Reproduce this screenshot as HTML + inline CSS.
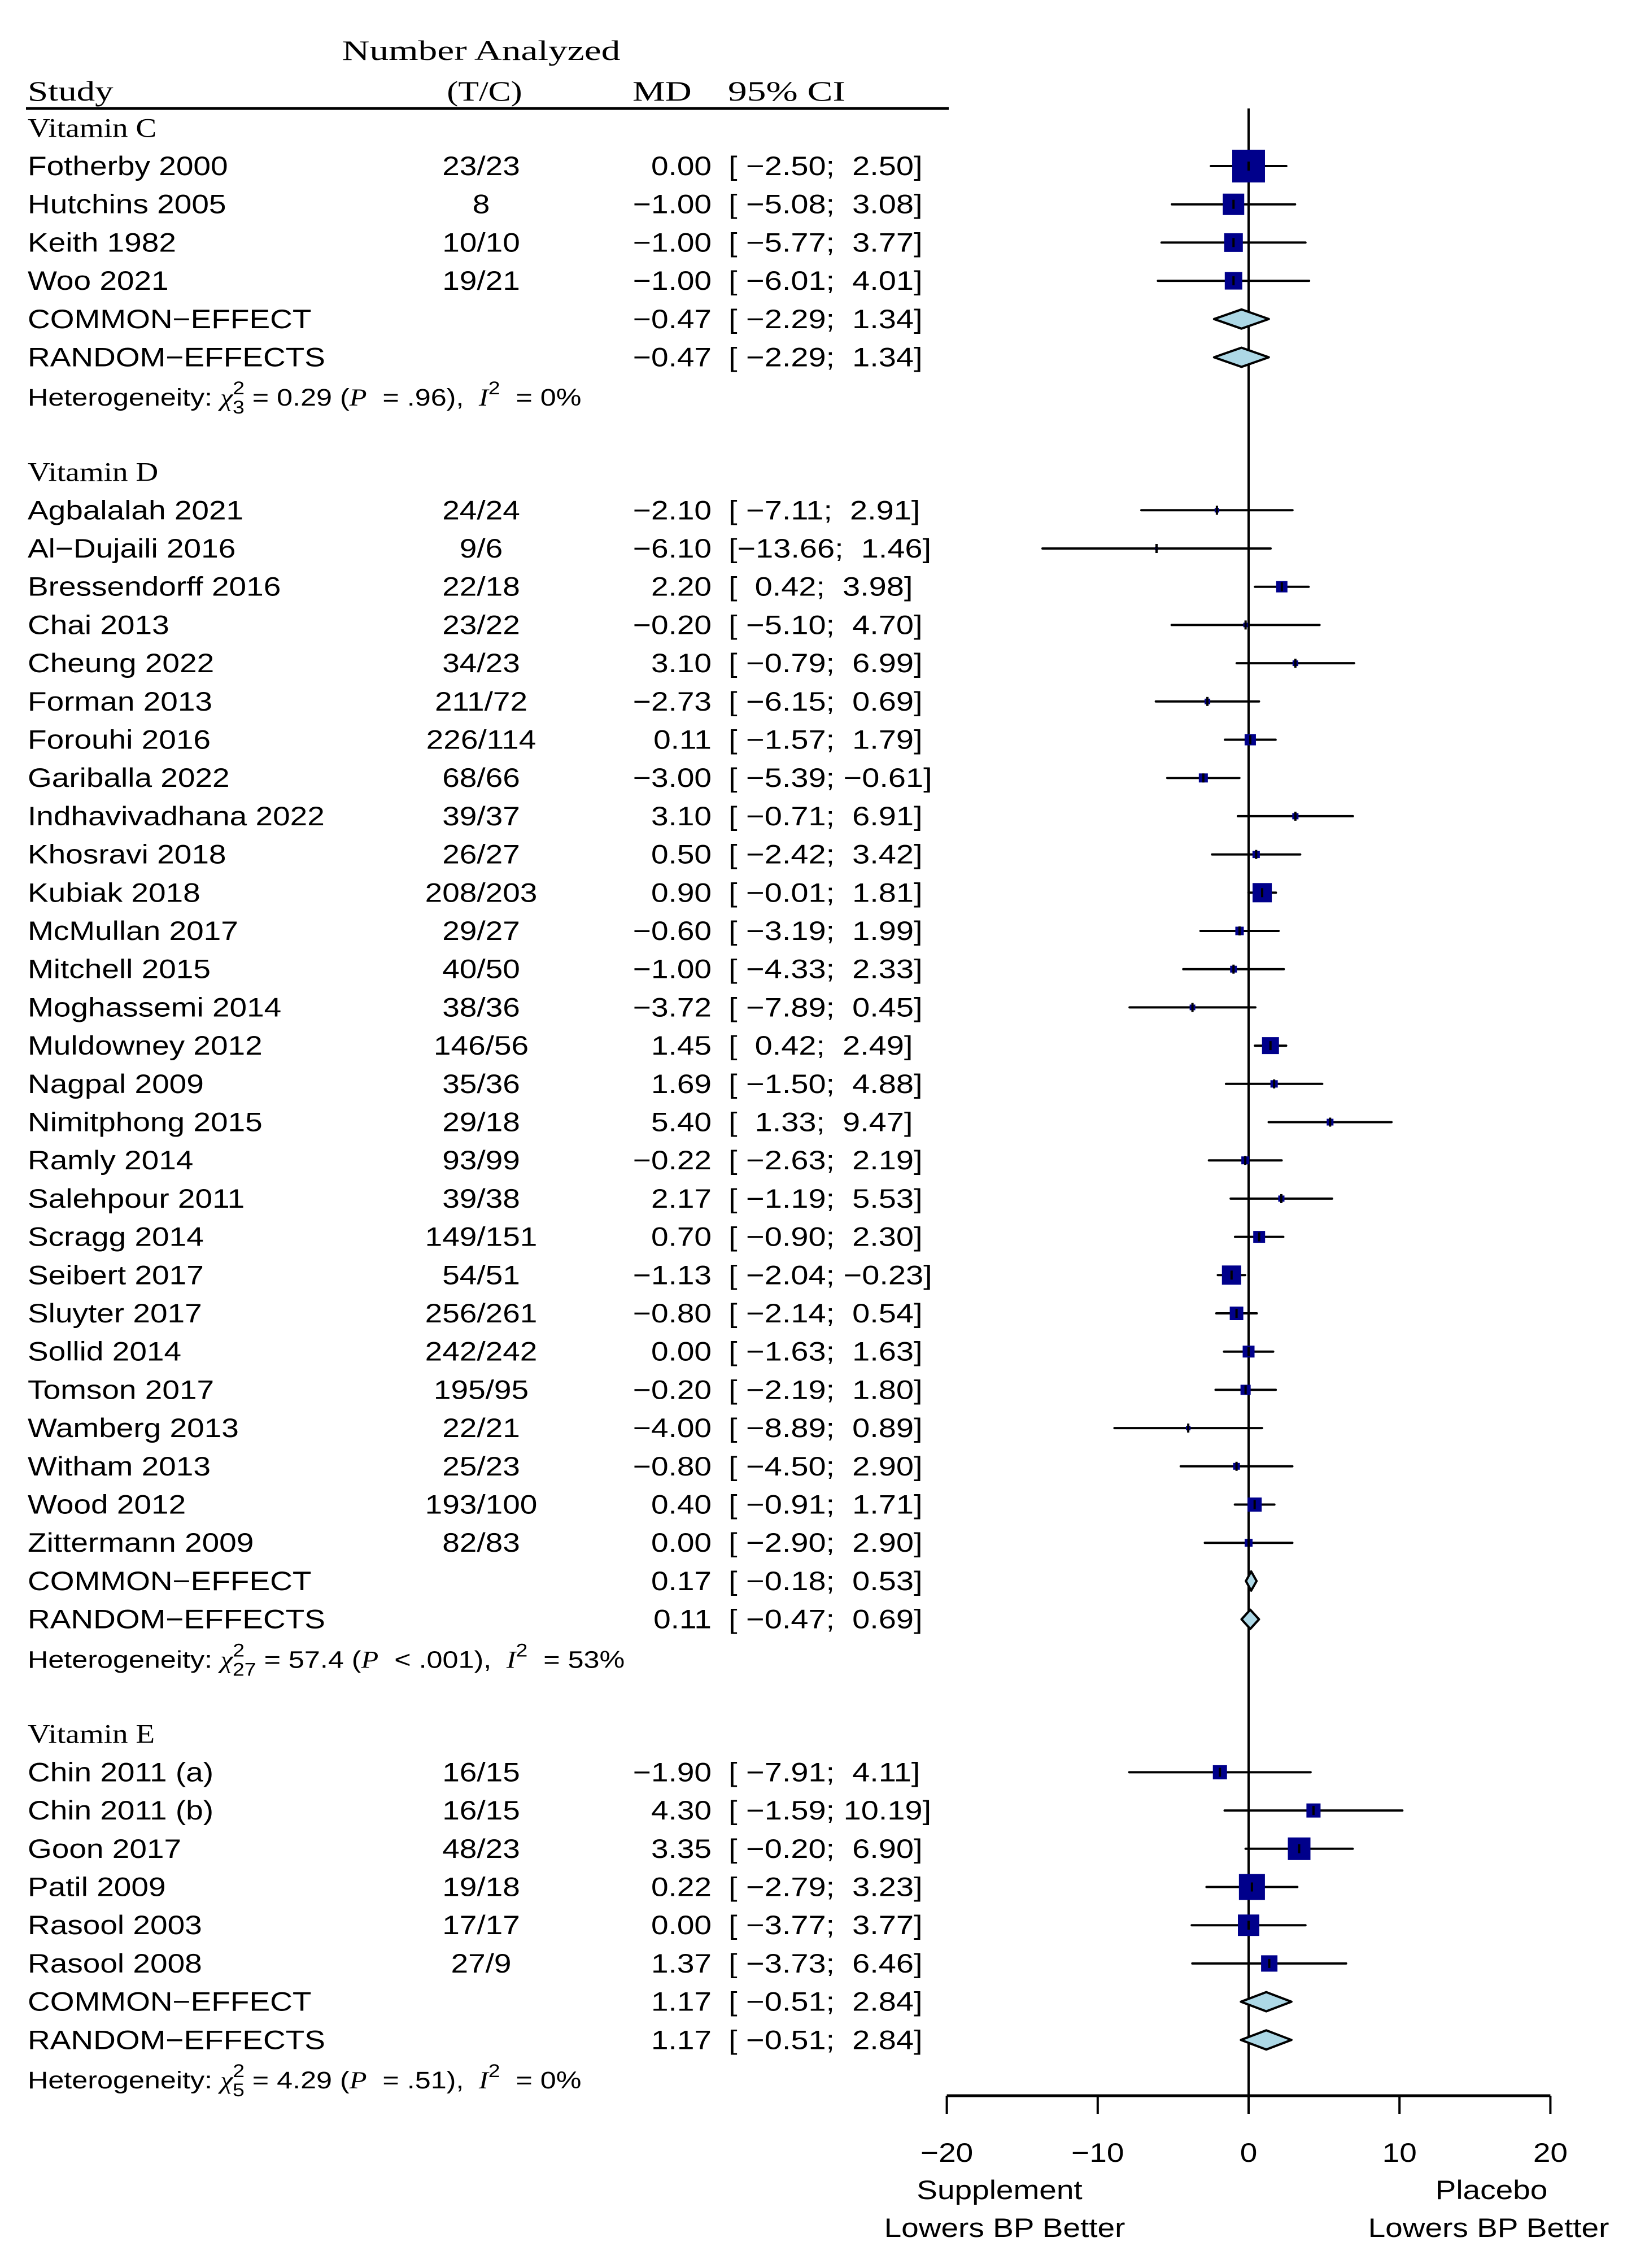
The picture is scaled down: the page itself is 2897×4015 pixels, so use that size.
<!DOCTYPE html>
<html><head><meta charset="utf-8"><title>Forest plot</title>
<style>html,body{margin:0;padding:0;background:#fff}svg{display:block}text{white-space:pre}</style></head>
<body>
<svg id="chart" xmlns="http://www.w3.org/2000/svg" width="2897" height="4015" viewBox="0 0 2897 4015"></svg>
<script>
// ---- data ----
const groupNames = ["Vitamin C","Vitamin D","Vitamin E"];
const studiesC = ["Fotherby 2000","Hutchins 2005","Keith 1982","Woo 2021"];
const nC = ["23/23","8","10/10","19/21"];
const mdC = [0.00,-1.00,-1.00,-1.00];
const loC = [-2.50,-5.08,-5.77,-6.01];
const hiC = [2.50,3.08,3.77,4.01];
const wC = [33.6,14.4,10.9,9.6];
const sumC = [[-0.47,-2.29,1.34],[-0.47,-2.29,1.34]];
const hetC = ["3","0.29","= .96","0%"];

const studiesD = ["Agbalalah 2021","Al\u2212Dujaili 2016","Bressendorff 2016","Chai 2013","Cheung 2022","Forman 2013","Forouhi 2016","Gariballa 2022","Indhavivadhana 2022","Khosravi 2018","Kubiak 2018","McMullan 2017","Mitchell 2015","Moghassemi 2014","Muldowney 2012","Nagpal 2009","Nimitphong 2015","Ramly 2014","Salehpour 2011","Scragg 2014","Seibert 2017","Sluyter 2017","Sollid 2014","Tomson 2017","Wamberg 2013","Witham 2013","Wood 2012","Zittermann 2009"];
const nD = ["24/24","9/6","22/18","23/22","34/23","211/72","226/114","68/66","39/37","26/27","208/203","29/27","40/50","38/36","146/56","35/36","29/18","93/99","39/38","149/151","54/51","256/261","242/242","195/95","22/21","25/23","193/100","82/83"];
const mdD = [-2.10,-6.10,2.20,-0.20,3.10,-2.73,0.11,-3.00,3.10,0.50,0.90,-0.60,-1.00,-3.72,1.45,1.69,5.40,-0.22,2.17,0.70,-1.13,-0.80,0.00,-0.20,-4.00,-0.80,0.40,0.00];
const loD = [-7.11,-13.66,0.42,-5.10,-0.79,-6.15,-1.57,-5.39,-0.71,-2.42,-0.01,-3.19,-4.33,-7.89,0.42,-1.50,1.33,-2.63,-1.19,-0.90,-2.04,-2.14,-1.63,-2.19,-8.89,-4.50,-0.91,-2.90];
const hiD = [2.91,1.46,3.98,4.70,6.99,0.69,1.79,-0.61,6.91,3.42,1.81,1.99,2.33,0.45,2.49,4.88,9.47,2.19,5.53,2.30,-0.23,0.54,1.63,1.80,0.89,2.90,1.71,2.90];
const wD = [0.64,0.36,4,0.64,1,1,4,2.56,1.21,1.69,11.6,2.25,1.44,1,9,1.69,1.44,1.96,1.21,4.41,11.6,5.76,4.41,3.24,0.64,1.44,6.25,1.96];
const sumD = [[0.17,-0.18,0.53],[0.11,-0.47,0.69]];
const hetD = ["27","57.4","< .001","53%"];

const studiesE = ["Chin 2011 (a)","Chin 2011 (b)","Goon 2017","Patil 2009","Rasool 2003","Rasool 2008"];
const nE = ["16/15","16/15","48/23","19/18","17/17","27/9"];
const mdE = [-1.90,4.30,3.35,0.22,0.00,1.37];
const loE = [-7.91,-1.59,-0.20,-2.79,-3.77,-3.73];
const hiE = [4.11,10.19,6.90,3.23,3.77,6.46];
const wE = [6.25,6.25,16,21.2,14.4,8.4];
const sumE = [[1.17,-0.51,2.84],[1.17,-0.51,2.84]];
const hetE = ["5","4.29","= .51","0%"];

const xTicks = [-20,-10,0,10,20];

// ---- layout ----
const NS="http://www.w3.org/2000/svg";
const svg=document.getElementById('chart');
const SX=1.17, FS=47;
const X0=2211, PX=26.72;
function X(v){return X0+PX*v;}
function Y(i){return 294+67.7*i;}
function fmt(v){return (v<0?"\u2212":"")+Math.abs(v).toFixed(2);}
function el(tag,attrs){const e=document.createElementNS(NS,tag);for(const k in attrs)e.setAttribute(k,attrs[k]);svg.appendChild(e);return e;}
function txt(x,y,s,anchor,size,fam,name,sx){
  const t=el('text',{transform:`translate(${x},${y}) scale(${sx||SX},1)`,'text-anchor':anchor||'start','font-size':size||FS,'font-family':fam||'"Liberation Sans", sans-serif',fill:'#000'});
  
  
  t.setAttribute('xml:space','preserve');
  t.textContent=s;return t;
}
const HF='"Liberation Serif", serif';
// header
txt(852,106,"Number Analyzed","middle",50,HF,"header-number-analyzed",1.35);
txt(49,178,"Study","start",50,HF,"header-study",1.3);
txt(858,178,"(T/C)","middle",50,HF,"header-tc",1.2);
txt(1120,178,"MD","start",50,HF,"header-md",1.3);
txt(1289,178,"95% CI","start",50,HF,"header-ci",1.35);
const hl=el('line',{x1:46,x2:1680,y1:192,y2:192,stroke:'#000','stroke-width':5});



// zero line
const zl=el('line',{x1:X(0),x2:X(0),y1:192,y2:3710,stroke:'#000','stroke-width':4});



function ciText(i,lo,hi,md){
  const y=Y(i)+16;
  txt(1260,y,fmt(md),"end",FS,null,"md-value");
  txt(1290,y,"["+fmt(lo).padStart(6," ")+";  ".slice(0,2)+fmt(hi).padStart(5," ")+"]","start",FS,null,"ci-text",1.19);
}
function drawGroup(start,gname,names,ns,md,lo,hi,w,sums,het){
  txt(49,Y(start-1)+16,gname,"start",48,HF,"group-header",1.15);
  names.forEach((nm,k)=>{
    const i=start+k, y=Y(i);
    txt(49,y+16,nm,"start",FS,null,"study-name");
    txt(852,y+16,ns[k],"middle",FS,null,"number-analyzed");
    ciText(i,lo[k],hi[k],md[k]);
    const l=el('line',{x1:X(lo[k]),x2:X(hi[k]),y1:y,y2:y,stroke:'#000','stroke-width':4,'stroke-linecap':'round'});
    
    
    const s=10*Math.sqrt(w[k]);
    const r=el('rect',{x:X(md[k])-s/2,y:y-s/2,width:s,height:s,fill:'#00008b'});
    
    
    const t=el('line',{x1:X(md[k]),x2:X(md[k]),y1:y-8,y2:y+8,stroke:'#000','stroke-width':4});
    
    
  });
  const labels=["COMMON\u2212EFFECT","RANDOM\u2212EFFECTS"];
  sums.forEach((sm,k)=>{
    const i=start+names.length+k, y=Y(i);
    txt(49,y+16,labels[k],"start",FS,null,"summary-label");
    ciText(i,sm[1],sm[2],sm[0]);
    const p=el('polygon',{points:`${X(sm[1])},${y} ${X(sm[0])},${y-17} ${X(sm[2])},${y} ${X(sm[0])},${y+17}`,fill:'#add8e6',stroke:'#000','stroke-width':4,'stroke-linejoin':'round'});
    
    
  });
  const hy=Y(start+names.length+2)+18;
  const t=el('text',{transform:`translate(49,${hy}) scale(${SX},1)`,'font-size':43,'font-family':'"Liberation Sans", sans-serif'});
  
  
  t.innerHTML=`Heterogeneity: <tspan font-family="Liberation Serif" font-style="italic">\u03c7</tspan><tspan font-size="32" dy="-20">2</tspan><tspan font-size="32" dx="-18" dy="34">${het[0]}</tspan><tspan dy="-14"> = ${het[1]} (</tspan><tspan font-family="Liberation Serif" font-style="italic">P</tspan><tspan>  ${het[2]}), </tspan><tspan font-family="Liberation Serif" font-style="italic"> I</tspan><tspan font-size="32" dy="-20">2</tspan><tspan dy="20">  = ${het[3]}</tspan>`;
}
drawGroup(0,groupNames[0],studiesC,nC,mdC,loC,hiC,wC,sumC,hetC);
drawGroup(9,groupNames[1],studiesD,nD,mdD,loD,hiD,wD,sumD,hetD);
drawGroup(42,groupNames[2],studiesE,nE,mdE,loE,hiE,wE,sumE,hetE);

// axis
const ax=el('line',{x1:X(xTicks[0]),x2:X(xTicks[xTicks.length-1]),y1:3710,y2:3710,stroke:'#000','stroke-width':5});


xTicks.forEach(v=>{
  const tk=el('line',{x1:X(v),x2:X(v),y1:3710,y2:3742,stroke:'#000','stroke-width':4});
  
  
  txt(X(v),3827,(v<0?"\u2212":"")+Math.abs(v),"middle",FS,null,"x-tick-label");
});
txt(1770,3893,"Supplement","middle",FS,null,"left-axis-label");
txt(1779,3960,"Lowers BP Better","middle",FS,null,"left-axis-label-2");
txt(2641,3893,"Placebo","middle",FS,null,"right-axis-label");
txt(2636,3960,"Lowers BP Better","middle",FS,null,"right-axis-label-2");
</script>
</body></html>
